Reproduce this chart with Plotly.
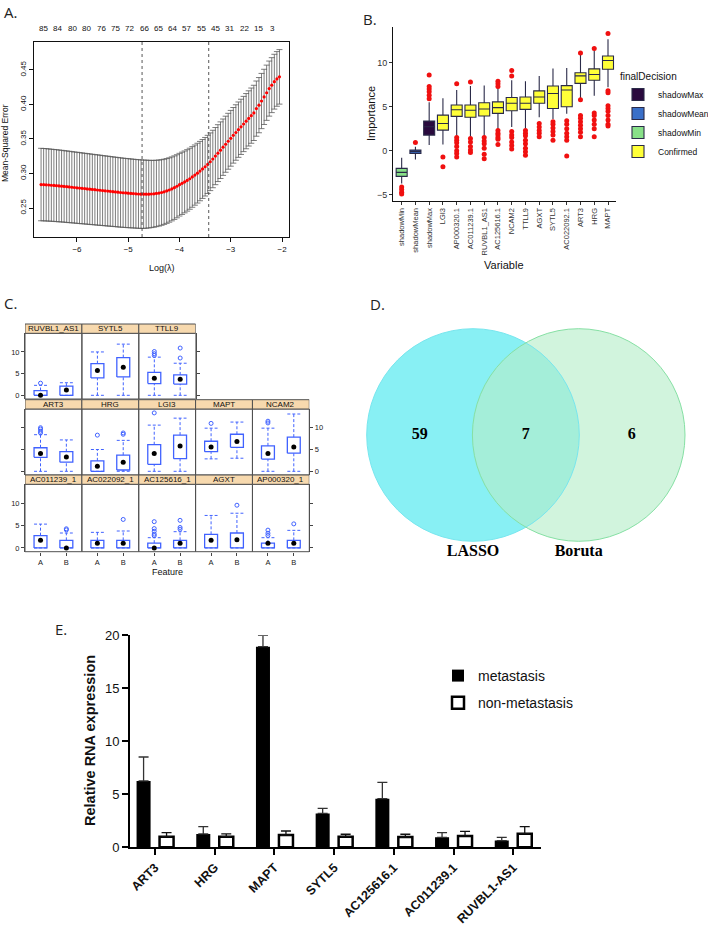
import plotly.graph_objects as go

W, H = 708, 927
def dx(a, b):
    return [a / W, b / W]
def dy(top, bottom):
    return [1 - bottom / H, 1 - top / H]
def px(x):
    return x / W
def py(y):
    return 1 - y / H

# ---------------- Panel A data (LASSO CV curve) ----------------
a_loglam_start, a_step, a_n = -6.70, 0.05, 94
a_loglam = [round(a_loglam_start + a_step * i, 2) for i in range(a_n)]
a_mse = [0.2840, 0.2838, 0.2836, 0.2833, 0.2830, 0.2827, 0.2824, 0.2820, 0.2817, 0.2813,
         0.2809, 0.2805, 0.2801, 0.2797, 0.2793, 0.2789, 0.2785, 0.2781, 0.2777, 0.2773,
         0.2769, 0.2765, 0.2761, 0.2757, 0.2753, 0.2749, 0.2745, 0.2741, 0.2737, 0.2733,
         0.2729, 0.2725, 0.2721, 0.2718, 0.2715, 0.2712, 0.2709, 0.2706, 0.2703, 0.2701,
         0.2700, 0.2700, 0.2701, 0.2703, 0.2706, 0.2711, 0.2717, 0.2725, 0.2735, 0.2747,
         0.2761, 0.2777, 0.2795, 0.2815, 0.2838, 0.2858, 0.2878, 0.2900, 0.2924, 0.2950,
         0.2977, 0.3005, 0.3035, 0.3066, 0.3098, 0.3132, 0.3170, 0.3210, 0.3252, 0.3295,
         0.3338, 0.3381, 0.3424, 0.3467, 0.3510, 0.3553, 0.3594, 0.3635, 0.3676, 0.3717,
         0.3758, 0.3798, 0.3838, 0.3878, 0.3940, 0.3990, 0.4050, 0.4110, 0.4170, 0.4230,
         0.4280, 0.4330, 0.4370, 0.4400]
a_sd = [0.0525, 0.0524, 0.0524, 0.0523, 0.0522, 0.0521, 0.0521, 0.0520, 0.0519, 0.0518,
        0.0518, 0.0517, 0.0516, 0.0515, 0.0515, 0.0514, 0.0513, 0.0512, 0.0512, 0.0511,
        0.0510, 0.0509, 0.0509, 0.0508, 0.0507, 0.0506, 0.0506, 0.0505, 0.0504, 0.0503,
        0.0503, 0.0502, 0.0501, 0.0500, 0.0500, 0.0499, 0.0498, 0.0497, 0.0497, 0.0496,
        0.0495, 0.0493, 0.0490, 0.0487, 0.0484, 0.0481, 0.0478, 0.0475, 0.0472, 0.0469,
        0.0466, 0.0463, 0.0460, 0.0457, 0.0454, 0.0451, 0.0448, 0.0445, 0.0442, 0.0439,
        0.0436, 0.0433, 0.0430, 0.0427, 0.0424, 0.0421, 0.0418, 0.0416, 0.0414, 0.0412,
        0.0410, 0.0408, 0.0406, 0.0405, 0.0404, 0.0403, 0.0402, 0.0401, 0.0400, 0.0400,
        0.0400, 0.0400, 0.0400, 0.0400, 0.0400, 0.0400, 0.0400, 0.0400, 0.0400, 0.0399,
        0.0398, 0.0397, 0.0396, 0.0395]
a_vlines = [-4.73, -3.43]
a_top_counts = ["85", "84", "80", "80", "76", "75", "72", "66", "65", "64", "57", "55", "45", "31", "22", "15", "3"]
a_top_pos = [-6.65, -6.37, -6.09, -5.81, -5.53, -5.25, -4.97, -4.69, -4.41, -4.14, -3.86,
             -3.58, -3.30, -3.02, -2.74, -2.46, -2.18]

# ---------------- Panel B data (Boruta) ----------------
b_vars = ["shadowMin", "shadowMean", "shadowMax", "LGI3", "AP000320.1", "AC011239.1",
          "RUVBL1_AS1", "AC125616.1", "NCAM2", "TTLL9", "AGXT", "SYTL5", "AC022092.1",
          "ART3", "HRG", "MAPT"]
b_group = ["shadowMin", "shadowMean", "shadowMax"] + ["Confirmed"] * 13
b_q1 = [-2.9, -0.3, 1.78, 2.35, 3.9, 3.8, 3.95, 4.25, 4.55, 4.7, 5.4, 4.8, 5.0, 7.65, 8.0, 9.25]
b_med = [-2.45, -0.1, 2.73, 3.1, 4.65, 4.6, 4.75, 4.9, 5.4, 5.4, 6.1, 6.5, 6.9, 8.5, 8.65, 10.25]
b_q3 = [-2.0, 0.08, 3.37, 4.05, 5.2, 5.2, 5.45, 5.55, 6.05, 6.1, 6.8, 7.35, 7.4, 8.85, 9.3, 10.75]
b_lo = [-3.7, -1.0, 0.65, 0.7, 1.6, 1.6, 1.6, 2.35, 2.7, 2.5, 3.8, 3.6, 4.2, 5.95, 6.25, 7.2]
b_hi = [-0.8, 0.45, 5.5, 5.95, 6.9, 7.35, 7.4, 7.2, 8.0, 7.9, 8.5, 9.35, 9.4, 10.9, 11.4, 12.65]
b_out = [
    [-4.1, -4.4, -4.7, -4.9],
    [0.95],
    [8.6, 7.3, 7.0, 6.7, 6.3, 5.9],
    [-0.7, -1.8],
    [7.6, 1.5, 1.2, 0.9, 0.5, 0.0, -0.3, -0.7],
    [7.8, 1.4, 1.0, 0.5, 0.1, -0.2],
    [1.5, 1.1, 0.8, 0.3, -0.4, -0.9],
    [7.9, 7.6, 7.3, 2.3, 2.0, 1.8, 1.5, 1.3, 0.7],
    [9.1, 8.5, 2.2, 1.8, 1.5, 1.0, 0.6, 0.2],
    [2.3, 2.0, 1.7, 1.2, 0.8, 0.3, -0.1, -0.5],
    [3.1, 2.7, 2.3, 2.0, 1.6],
    [3.3, 3.0, 2.6, 2.2, 1.8, 1.2],
    [3.4, 3.0, 2.5, 2.0, 1.6, 1.2, -0.6],
    [11.1, 5.8, 4.0, 3.7, 3.3, 2.9, 2.5, 2.1, 1.6],
    [11.6, 4.3, 4.0, 3.5, 3.0, 2.5, 1.6],
    [13.3, 6.8, 6.6, 5.1, 4.8, 4.5, 4.0, 3.5, 3.0, 2.8],
]
b_legend_order = ["shadowMax", "shadowMean", "shadowMin", "Confirmed"]
b_colors = {"shadowMax": "#2a0a3e", "shadowMean": "#3a6fc8", "shadowMin": "#88e088", "Confirmed": "#ffff38"}

# ---------------- Panel C data (featurePlot boxes) ----------------
c_feat = ["RUVBL1_AS1", "SYTL5", "TTLL9", "ART3", "HRG", "LGI3", "MAPT", "NCAM2",
          "AC011239_1", "AC022092_1", "AC125616_1", "AGXT", "AP000320_1"]
c_row_sizes = [3, 5, 5]
c_classes = ["A", "B"]
# [lower whisker, q1, median, q3, upper whisker]
c_A = [[0, 0, 0, 1.1, 2.3], [0, 4.0, 5.75, 7.3, 10.0], [0, 2.7, 3.95, 5.3, 8.8],
       [0, 3.2, 4.1, 5.4, 8.4], [0, 0, 1.15, 2.4, 5.0], [0, 1.6, 4.1, 6.1, 10.6],
       [2.85, 4.5, 5.6, 6.9, 9.9], [0, 2.8, 4.1, 5.85, 9.9],
       [0, 0, 1.7, 2.75, 5.35], [0, 0, 1.07, 1.7, 3.5], [0, 0, 0, 1.07, 2.3],
       [0, 0, 1.7, 3.05, 7.3], [0, 0, 1.07, 1.07, 2.3]]
c_B = [[0, 0, 1.2, 2.1, 2.9], [0, 4.25, 6.45, 8.7, 11.8], [0, 2.6, 3.7, 4.7, 7.4],
       [0, 2.1, 3.3, 4.5, 7.2], [0, 0.3, 2.1, 3.7, 7.1], [0, 2.9, 5.8, 8.3, 12.2],
       [3.0, 5.5, 6.85, 8.5, 11.3], [0, 4.15, 5.6, 7.85, 13.15],
       [0, 0, 0, 1.7, 3.35], [0, 0, 1.07, 1.7, 3.8], [0, 0, 1.07, 1.7, 3.65],
       [0, 0, 1.85, 3.35, 7.8], [0, 0, 1.07, 1.7, 3.95]]
c_A_out = [[2.8], [], [9.2, 9.6, 10.1], [8.8, 9.2, 9.7, 10.0], [8.3], [13.4], [11.0],
           [11.1, 11.5], [], [], [2.75, 3.1, 3.75, 4.35, 5.9], [], [2.8, 3.3, 4.0]]
c_B_out = [[], [], [8.6, 10.9], [], [8.5, 8.8], [], [], [], [4.05, 4.3], [6.4],
           [4.2, 4.6, 6.2], [9.6], [5.4]]

# ---------------- Panel D data (Venn) ----------------
d_sets = ["LASSO", "Boruta"]
d_counts = ["59", "7", "6"]

# ---------------- Panel E data (qPCR) ----------------
e_genes = ["ART3", "HRG", "MAPT", "SYTL5", "AC125616.1", "AC011239.1", "RUVBL1-AS1"]
e_met = [6.26, 1.26, 18.93, 3.2, 4.59, 0.94, 0.63]
e_met_err = [2.26, 0.69, 1.07, 0.48, 1.54, 0.44, 0.31]
e_non = [1.0, 1.0, 1.16, 1.0, 0.97, 1.07, 1.29]
e_non_err = [0.38, 0.26, 0.38, 0.23, 0.26, 0.44, 0.66]

fig = go.Figure()
shapes = []
annos = []
SANS = "Liberation Sans, Arial, sans-serif"

def note(x, y, text, size, angle=0, color="#111", family=SANS, **kw):
    d = dict(x=x, y=y, xref="paper", yref="paper", text=text, showarrow=False,
             xanchor="center", yanchor="middle", textangle=angle,
             font=dict(size=size, color=color, family=family))
    d.update(kw)
    annos.append(d)

# ================= Panel A =================
fig.add_trace(go.Scatter(
    x=a_loglam, y=a_mse, mode="markers", xaxis="x", yaxis="y", showlegend=False,
    marker=dict(color="#ff0000", size=3.2),
    error_y=dict(type="data", array=a_sd, color="#5a5a5a", thickness=0.8, width=3)))
for v in a_vlines:
    shapes.append(dict(type="line", xref="x", yref="y domain", x0=v, x1=v, y0=0, y1=1,
                       line=dict(color="#444", width=0.9, dash="dot")))
for lab, pos in zip(a_top_counts, a_top_pos):
    note(pos, py(28), lab, 8, xref="x")
note(px(162), py(268), "Log(λ)", 9)
note(px(5), py(143), "Mean-Squared Error", 8.5, angle=-90)

# ================= Panel B =================
for grp in b_legend_order:
    idx = [i for i, g in enumerate(b_group) if g == grp]
    fig.add_trace(go.Box(
        x=[b_vars[i] for i in idx], q1=[b_q1[i] for i in idx], median=[b_med[i] for i in idx],
        q3=[b_q3[i] for i in idx], lowerfence=[b_lo[i] for i in idx],
        upperfence=[b_hi[i] for i in idx], name=grp, xaxis="x3", yaxis="y3",
        fillcolor=b_colors[grp], line=dict(color="#2a2a48", width=1.1), width=0.8,
        whiskerwidth=0, boxpoints=False, legend="legend", hoverinfo="skip"))
ox, oy = [], []
for v, outs in zip(b_vars, b_out):
    for o in outs:
        ox.append(v)
        oy.append(o)
fig.add_trace(go.Scatter(x=ox, y=oy, mode="markers", xaxis="x3", yaxis="y3", showlegend=False,
                         marker=dict(color="#f01010", size=5)))
note(px(371), py(114), "Importance", 11, angle=-90)
note(px(504), py(265), "Variable", 11)

# ================= Panel C =================
C_BLUE = "#4062ff"
c_xaxes = ["x4", "x5", "x6"]
c_yaxes = ["y4", "y5", "y6"]
c_panel_px = [(333.3, 399), (409, 475), (484.3, 551.7)]
strip_px = 9.3
col_w = 2.2
half = 0.25
start = 0
for r, n in enumerate(c_row_sizes):
    xa, ya = c_xaxes[r], c_yaxes[r]
    top, bot = c_panel_px[r]
    ph = bot - top
    rx, ry = [], []
    wx, wy = [], []
    mx, my = [], []
    outx, outy = [], []
    for c in range(n):
        fi = start + c
        for k, (stats, outs) in enumerate([(c_A[fi], c_A_out[fi]), (c_B[fi], c_B_out[fi])]):
            pos = c * col_w + 0.6 + k
            lo, q1, med, q3, hi = stats
            rx += [pos - half, pos + half, pos + half, pos - half, pos - half, None]
            ry += [q1, q1, q3, q3, q1, None]
            wx += [pos, pos, None, pos, pos, None,
                   pos - half, pos + half, None, pos - half, pos + half, None]
            wy += [lo, q1, None, q3, hi, None, lo, lo, None, hi, hi, None]
            mx.append(pos)
            my.append(med)
            for o in outs:
                outx.append(pos)
                outy.append(o)
        shapes.append(dict(type="rect", xref=xa, yref=ya + " domain", x0=c * col_w,
                           x1=(c + 1) * col_w, y0=0, y1=1, line=dict(color="#505050", width=1)))
        shapes.append(dict(type="rect", xref=xa, yref=ya + " domain", x0=c * col_w,
                           x1=(c + 1) * col_w, y0=1, y1=1 + strip_px / ph,
                           fillcolor="#f7d9ae", line=dict(color="#505050", width=1)))
        annos.append(dict(x=c * col_w + col_w / 2, xref=xa, y=1 + strip_px / ph / 2,
                          yref=ya + " domain", text=c_feat[fi], showarrow=False,
                          xanchor="center", yanchor="middle",
                          font=dict(size=8, color="#111", family=SANS)))
    fig.add_trace(go.Scatter(x=wx, y=wy, mode="lines", xaxis=xa, yaxis=ya, showlegend=False,
                             line=dict(color=C_BLUE, width=1, dash="3px,2px")))
    fig.add_trace(go.Scatter(x=rx, y=ry, mode="lines", xaxis=xa, yaxis=ya, showlegend=False,
                             line=dict(color=C_BLUE, width=1.3)))
    fig.add_trace(go.Scatter(x=outx, y=outy, mode="markers", xaxis=xa, yaxis=ya, showlegend=False,
                             marker=dict(symbol="circle-open", color=C_BLUE, size=4,
                                         line=dict(width=1))))
    fig.add_trace(go.Scatter(x=mx, y=my, mode="markers", xaxis=xa, yaxis=ya, showlegend=False,
                             marker=dict(color="black", size=5)))
    start += n
note(px(167), py(572), "Feature", 9)

# ================= Panel D =================
d_r = 1.063
d_c = 0.5285
shapes.append(dict(type="circle", xref="x7", yref="y7", x0=-d_c - d_r, x1=-d_c + d_r,
                   y0=-d_r, y1=d_r, fillcolor="#88f0f4", line=dict(width=0), layer="below"))
shapes.append(dict(type="circle", xref="x7", yref="y7", x0=d_c - d_r, x1=d_c + d_r,
                   y0=-d_r, y1=d_r, fillcolor="rgba(180,238,200,0.62)", line=dict(width=0),
                   layer="below"))
shapes.append(dict(type="circle", xref="x7", yref="y7", x0=-d_c - d_r, x1=-d_c + d_r,
                   y0=-d_r, y1=d_r, line=dict(color="#78e6ee", width=1), layer="below"))
shapes.append(dict(type="circle", xref="x7", yref="y7", x0=d_c - d_r, x1=d_c + d_r,
                   y0=-d_r, y1=d_r, line=dict(color="#86e0a4", width=1), layer="below"))
SERIF = "Liberation Serif, Times New Roman, serif"
fig.add_trace(go.Scatter(x=[-d_c - d_r / 2, 0, d_c + d_r / 2], y=[0, 0, 0], mode="text",
                         text=d_counts, xaxis="x7", yaxis="y7", showlegend=False,
                         textfont=dict(family=SERIF, size=16, color="black"),
                         texttemplate="<b>%{text}</b>"))
fig.add_trace(go.Scatter(x=[-d_c, d_c], y=[-1.17, -1.17], mode="text", text=d_sets,
                         xaxis="x7", yaxis="y7", showlegend=False,
                         textfont=dict(family=SERIF, size=16, color="black"),
                         texttemplate="<b>%{text}</b>"))

# ================= Panel E =================
fig.add_trace(go.Bar(x=e_genes, y=e_met, name="metastasis", xaxis="x8", yaxis="y8",
                     width=0.235, offset=-0.31, marker=dict(color="black", line=dict(width=0)),
                     error_y=dict(type="data", symmetric=False, array=e_met_err,
                                  arrayminus=[0] * len(e_met), color="#333", thickness=1.3, width=5),
                     legend="legend2", legendgroup="m"))
fig.add_trace(go.Bar(x=e_genes, y=e_non, name="non-metastasis", xaxis="x8", yaxis="y8",
                     width=0.235, offset=0.075,
                     marker=dict(color="white", line=dict(color="black", width=2.5)),
                     error_y=dict(type="data", symmetric=False, array=e_non_err,
                                  arrayminus=[0] * len(e_non), color="#111", thickness=1.3, width=5),
                     legend="legend2", legendgroup="n"))
note(px(90), py(741), "<b>Relative RNA expression</b>", 14.5, angle=-90)

# ================= Panel letters =================
for lab, x, y in [("A.", 2, 12.5), ("B.", 361, 18.5), ("C.", 2, 303), ("D.", 368, 304),
                  ("E.", 53, 629)]:
    note(px(x), py(y), lab, 15, color="#222", family="Open Sans, sans-serif", xanchor="left")

# ================= Layout =================
tickfont_a = dict(size=8, color="#111", family=SANS)
axis_c_common = dict(showgrid=False, zeroline=False)
c_yrange = [-0.85, 14.3]

layout = dict(
    width=W, height=H, margin=dict(l=0, r=0, t=0, b=0, autoexpand=False),
    paper_bgcolor="white", plot_bgcolor="white",
    font=dict(family=SANS, color="#111"),
    boxmode="overlay", barmode="overlay",
    shapes=shapes, annotations=annos,
    # Panel A
    xaxis=dict(domain=dx(34, 289), range=[-6.838, -1.864], anchor="y",
               tickvals=[-6, -5, -4, -3, -2], ticks="outside", ticklen=4, tickcolor="#111",
               showline=True, linecolor="#111", linewidth=1, mirror=True,
               showgrid=False, zeroline=False, tickfont=tickfont_a),
    yaxis=dict(domain=dy(42, 237), range=[0.208, 0.4905], anchor="x",
               tickvals=[0.25, 0.30, 0.35, 0.40, 0.45], tickformat=".2f", tickangle=-90,
               ticks="outside", ticklen=4, tickcolor="#111",
               showline=True, linecolor="#111", linewidth=1, mirror=True,
               showgrid=False, zeroline=False, tickfont=tickfont_a),
    # Panel B
    xaxis3=dict(domain=dx(393, 615.7), anchor="y3", type="category",
                categoryorder="array", categoryarray=b_vars, range=[-0.63, 15.56],
                tickangle=-90, ticks="outside", ticklen=3, tickcolor="#333",
                showline=True, linecolor="#111", linewidth=1,
                showgrid=False, zeroline=False, tickfont=dict(size=7.5, color="#333")),
    yaxis3=dict(domain=dy(27, 201), anchor="x3", range=[-5.7, 14.05],
                tickvals=[-5, 0, 5, 10], ticks="outside", ticklen=3, tickcolor="#333",
                showline=True, linecolor="#111", linewidth=1,
                showgrid=False, zeroline=False, tickfont=dict(size=9, color="#333")),
    # Panel C rows
    xaxis4=dict(domain=dx(25, 195.7), anchor="y4", range=[0, 3 * col_w],
                showticklabels=False, ticks="", **axis_c_common),
    yaxis4=dict(domain=dy(*c_panel_px[0]), anchor="x4", range=c_yrange, tickvals=[0, 5, 10],
                ticks="outside", ticklen=3, tickcolor="#444", showline=True,
                linecolor="#505050", mirror="ticks", side="left",
                tickfont=dict(size=7.5, color="#222"), **axis_c_common),
    xaxis5=dict(domain=dx(25, 309.3), anchor="y5", range=[0, 5 * col_w],
                showticklabels=False, ticks="", **axis_c_common),
    yaxis5=dict(domain=dy(*c_panel_px[1]), anchor="x5", range=c_yrange, tickvals=[0, 5, 10],
                ticks="outside", ticklen=3, tickcolor="#444", showline=True,
                linecolor="#505050", mirror="ticks", side="right",
                tickfont=dict(size=7.5, color="#222"), **axis_c_common),
    xaxis6=dict(domain=dx(25, 309.3), anchor="y6", range=[0, 5 * col_w],
                tickvals=[c * col_w + 0.6 + k for c in range(5) for k in range(2)],
                ticktext=[c_classes[k] for c in range(5) for k in range(2)],
                ticks="outside", ticklen=3, tickcolor="#444",
                tickfont=dict(size=7.5, color="#222"), **axis_c_common),
    yaxis6=dict(domain=dy(*c_panel_px[2]), anchor="x6", range=c_yrange, tickvals=[0, 5, 10],
                ticks="outside", ticklen=3, tickcolor="#444", showline=True,
                linecolor="#505050", mirror="ticks", side="left",
                tickfont=dict(size=7.5, color="#222"), **axis_c_common),
    # Panel D
    xaxis7=dict(domain=dx(354, 708), anchor="y7", range=[-1.7185, 1.8215], visible=False),
    yaxis7=dict(domain=dy(300, 600), anchor="x7", range=[-1.65, 1.35], visible=False),
    # Panel E
    xaxis8=dict(domain=dx(130, 540.7), anchor="y8", type="category",
                categoryorder="array", categoryarray=e_genes, range=[-0.42, 6.46],
                tickangle=-45, ticks="outside", ticklen=6, tickwidth=2, tickcolor="black",
                showline=True, linecolor="black", linewidth=2,
                showgrid=False, zeroline=False,
                tickfont=dict(size=12.5, color="#111"),
                tickprefix="<b>", ticksuffix="</b>"),
    yaxis8=dict(domain=dy(635.3, 847.3), anchor="x8", range=[0, 20],
                tickvals=[0, 5, 10, 15, 20], ticks="outside", ticklen=6, tickwidth=2,
                tickcolor="black", showline=True, linecolor="black", linewidth=2,
                showgrid=False, zeroline=False,
                tickfont=dict(size=13, color="#111"), tickprefix="<b>", ticksuffix="</b>"),
    legend=dict(x=px(618), y=py(67), xanchor="left", yanchor="top",
                title=dict(text="finalDecision", font=dict(size=10, color="#111")),
                font=dict(size=8.5, color="#111"), bgcolor="rgba(0,0,0,0)",
                itemwidth=30),
    legend2=dict(x=px(438), y=py(660), xanchor="left", yanchor="top",
                 font=dict(size=14, color="#111"), bgcolor="rgba(0,0,0,0)",
                 tracegroupgap=6, itemwidth=30),
)
fig.update_layout(**layout)
fig.write_html("out.html")
